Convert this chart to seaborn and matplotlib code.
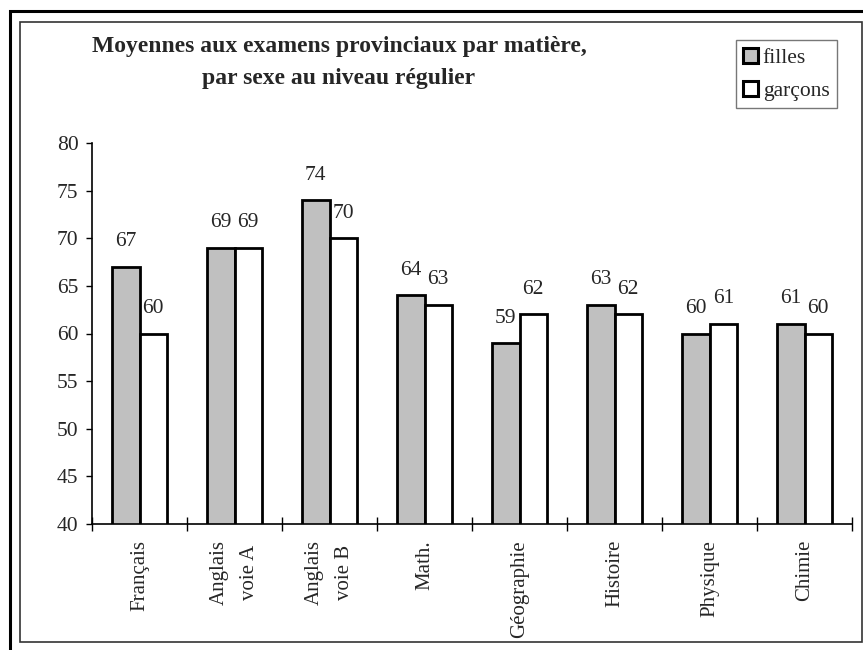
import matplotlib
matplotlib.use("Agg")
import matplotlib.pyplot as plt
from matplotlib.patches import Rectangle
from matplotlib.ticker import FixedLocator
import numpy as np
import pandas as pd
import seaborn as sns

subjects = ['Français', 'Anglais\nvoie A', 'Anglais\nvoie B', 'Math.',
            'Géographie', 'Histoire', 'Physique', 'Chimie']
filles = [67, 69, 74, 64, 59, 63, 60, 61]
garcons = [60, 69, 70, 63, 62, 62, 61, 60]
groups = ['filles', 'garçons']
title = 'Moyennes aux examens provinciaux par matière,\npar sexe au niveau régulier'

df = pd.DataFrame({
    'matiere': subjects * 2,
    'moyenne': filles + garcons,
    'sexe': [groups[0]] * len(subjects) + [groups[1]] * len(subjects),
})

sns.set_theme(style='white')
plt.rcParams['font.family'] = ['Liberation Serif', 'DejaVu Serif']

fig = plt.figure(figsize=(8.63, 6.5), dpi=100)
ax = fig.add_axes([92 / 863, 126 / 650, 760 / 863, 381 / 650])

sns.barplot(data=df, x='matiere', y='moyenne', hue='sexe', order=subjects,
            hue_order=groups, palette={'filles': '#c0c0c0', 'garçons': 'white'},
            edgecolor='black', linewidth=2, width=0.58, saturation=1,
            errorbar=None, ax=ax)

ax.set_ylim(40, 80)
ax.set_xlim(-0.5, len(subjects) - 0.5)
ax.set_yticks(np.arange(40, 81, 5))
ax.set_xlabel('')
ax.set_ylabel('')

for cont in ax.containers:
    for bar in cont:
        h = bar.get_height()
        ax.annotate(f'{h:.0f}', (bar.get_x() + bar.get_width() / 2, h),
                    xytext=(0, 18), textcoords='offset points',
                    ha='center', va='center', fontsize=15.5)

sns.despine(ax=ax)
for s in ['left', 'bottom']:
    ax.spines[s].set_color('black')
    ax.spines[s].set_linewidth(1.2)

ax.set_xticks(range(len(subjects)))
ax.set_xticklabels(subjects, rotation=90, fontsize=15, ha='center', va='top',
                   multialignment='center', linespacing=1.75)
ax.xaxis.set_minor_locator(FixedLocator(np.arange(-0.5, len(subjects), 1)))
ax.tick_params(axis='x', which='major', length=0, pad=11.5)
ax.tick_params(axis='x', which='minor', direction='inout', length=9.4,
               width=1, color='black', bottom=True)
ax.tick_params(axis='y', direction='out', length=4.3, width=1, color='black',
               labelsize=15.5, pad=5.5, left=True)

leg = ax.legend(loc='upper right', bbox_to_anchor=(837 / 863, 1 - 40 / 650),
                bbox_transform=fig.transFigure, fontsize=15.5, frameon=True,
                fancybox=False, shadow=False, handlelength=0.7, handleheight=0.7,
                handletextpad=0.2, labelspacing=0.6, borderpad=0.35,
                borderaxespad=0)
leg.get_frame().set_edgecolor('#555555')
leg.get_frame().set_linewidth(1)
for hnd in leg.legend_handles:
    hnd.set_linewidth(2.2)

fig.text(339 / 863, 1 - 62.5 / 650, title, ha='center', va='center',
         fontsize=17, fontweight='bold', linespacing=1.7)

# cadres autour de la figure
fig.patches.append(Rectangle((9.5 / 863, -0.1), 1.2, 1.083, transform=fig.transFigure,
                             fill=False, edgecolor='black', linewidth=2.2))
fig.patches.append(Rectangle((20 / 863, 8 / 650), 842 / 863, 620 / 650,
                             transform=fig.transFigure, fill=False,
                             edgecolor='#333333', linewidth=1.2))

fig.savefig('out.png', dpi=100)
